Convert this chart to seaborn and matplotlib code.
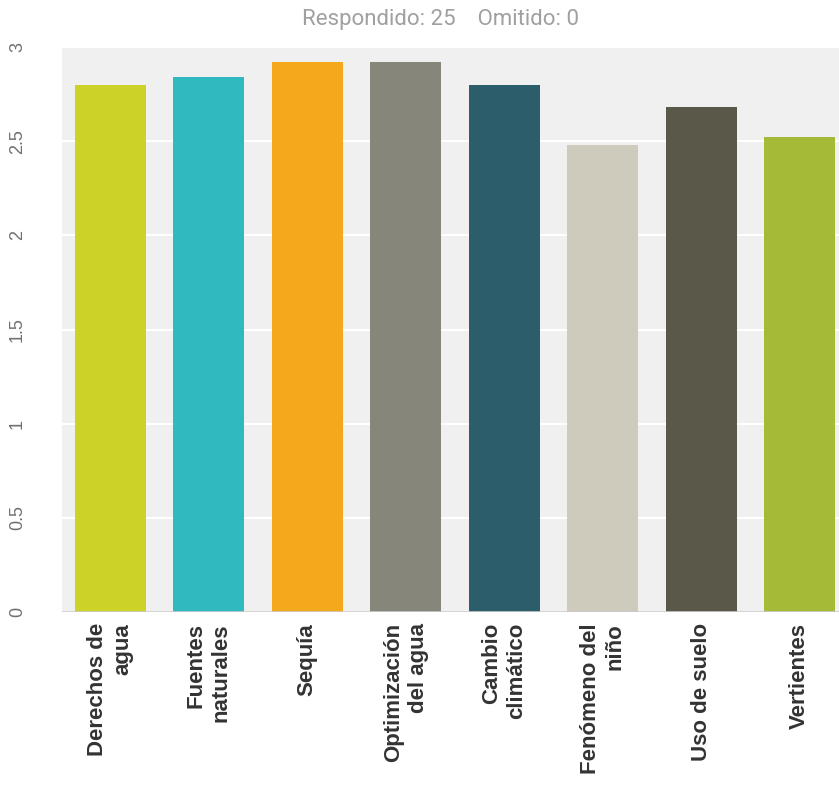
import matplotlib
matplotlib.use("Agg")
import matplotlib.pyplot as plt
import seaborn as sns
import pandas as pd

categories = ["Derechos de\nagua", "Fuentes\nnaturales", "Sequía", "Optimización\ndel agua",
              "Cambio\nclimático", "Fenómeno del\nniño", "Uso de suelo", "Vertientes"]
values = [2.80, 2.84, 2.92, 2.92, 2.80, 2.48, 2.68, 2.52]
colors = ["#cdd229", "#30b9be", "#f4a81c", "#86877a", "#2b5d6b", "#cecbbd", "#5a5848", "#a5ba36"]
yticks = [0, 0.5, 1, 1.5, 2, 2.5, 3]
ytick_labels = ["0", "0.5", "1", "1.5", "2", "2.5", "3"]
title = "Respondido: 25    Omitido: 0"

df = pd.DataFrame({"cat": categories, "val": values})

sns.set_theme(style="whitegrid")
plt.rcParams['font.family'] = ['Liberation Sans', 'DejaVu Sans']

fig = plt.figure(figsize=(8.39, 7.87), dpi=100)
ax = fig.add_axes([62/839, 1 - 612/787, 1 - 62/839, (612 - 47)/787])
sns.barplot(data=df, x="cat", y="val", hue="cat", palette=colors, legend=False,
            width=0.72, saturation=1, linewidth=0, ax=ax)
ax.set_facecolor("#f0f0f0")
ax.grid(axis="y", color="white", linewidth=1.5)
ax.grid(axis="x", visible=False)
for s in ax.spines.values():
    s.set_visible(False)
ax.set_ylim(0, 3)
ax.set_xlim(-0.49, 7.4)
ax.set_yticks(yticks)
ax.set_yticklabels(ytick_labels, rotation=90, va="center", color="#707070", fontsize=13)
ax.tick_params(axis="y", pad=26, length=0)
ax.tick_params(axis="x", pad=8, length=0)
ax.set_xticks(range(len(categories)))
ax.set_xticklabels(categories, rotation=90, ha="center", va="top", multialignment="right",
                   fontsize=16, fontweight="bold", color="#333333", linespacing=1.25)
ax.axhline(0, color="#cccccc", linewidth=1.2)
ax.set_xlabel("")
ax.set_ylabel("")
fig.text(440/839, 1 - 20/787, title, ha="center", va="center", fontsize=16,
         color="#a0a0a0", family=["Roboto", "DejaVu Sans"])
fig.savefig("out.png", dpi=100)
